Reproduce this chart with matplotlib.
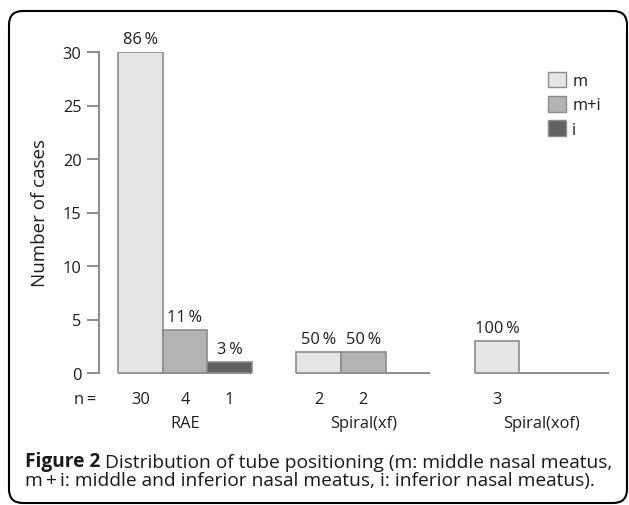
import matplotlib
matplotlib.use("Agg")
import matplotlib.pyplot as plt
from matplotlib.patches import FancyBboxPatch, Patch

# ---- data ----
groups = ["RAE", "Spiral(xf)", "Spiral(xof)"]
series = ["m", "m+i", "i"]
counts = [[30, 4, 1], [2, 2, 0], [3, 0, 0]]
percent_labels = [["86\u2009%", "11\u2009%", "3\u2009%"],
                  ["50\u2009%", "50\u2009%", ""],
                  ["100\u2009%", "", ""]]
n_labels = [["30", "4", "1"], ["2", "2", ""], ["3", "", ""]]
yticks = [0, 5, 10, 15, 20, 25, 30]
colors = ["#e5e5e5", "#b3b3b3", "#626262"]

W, H = 629, 506
plt.rcParams['font.family'] = ['Open Sans', 'DejaVu Sans']
fig = plt.figure(figsize=(W / 100, H / 100), dpi=100)
txt = "#1e1e1e"
fs = 11.8

# rounded border
box = FancyBboxPatch((9 / W, (H - 504) / H), (627 - 9) / W, (504 - 12) / H,
                     boxstyle="round,pad=0,rounding_size=0.022",
                     mutation_aspect=W / H,
                     transform=fig.transFigure, fill=False, ec="black", lw=1.5,
                     clip_on=False)
fig.patches.append(box)

slot_px = 44.6
ax_left, ax_right = 99, 612
ax_top, ax_bot = 53, 374
ax = fig.add_axes([ax_left / W, (H - ax_bot) / H, (ax_right - ax_left) / W, (ax_bot - ax_top) / H])
x0 = -(118 - ax_left) / slot_px
ax.set_xlim(x0, x0 + (ax_right - ax_left) / slot_px)
ax.set_ylim(0, 30)
ppu = (ax_bot - ax_top) / 30.0  # pixels per y unit

edge = "#8c8c8c"
y_n = -(404 - ax_bot) / ppu
y_g = -(428 - ax_bot) / ppu
for g, grp in enumerate(groups):
    start = g * 4
    for s in range(3):
        v = counts[g][s]
        x = start + s
        if v > 0:
            ax.bar(x, v, width=1, align="edge", color=colors[s], edgecolor=edge, lw=1.2, zorder=2)
        if percent_labels[g][s]:
            ax.annotate(percent_labels[g][s], (x + 0.5, v), xytext=(0, 6.5), textcoords="offset points",
                        ha="center", va="baseline", fontsize=fs, color=txt, annotation_clip=False)
        if n_labels[g][s]:
            ax.text(x + 0.5, y_n, n_labels[g][s], ha="center", va="baseline", fontsize=fs,
                    color=txt, clip_on=False)
    ax.hlines(0, start, start + 3, color=edge, lw=1.4, zorder=1, clip_on=False)
    ax.text(start + 1.5, y_g, grp, ha="center", va="baseline", fontsize=fs, color=txt, clip_on=False)

ax.text(x0 - 3 / slot_px, y_n, "n\u2009=", ha="right", va="baseline", fontsize=fs, color=txt, clip_on=False)

for sp in ["top", "right", "bottom"]:
    ax.spines[sp].set_visible(False)
ax.spines["left"].set_color(edge)
ax.spines["left"].set_linewidth(1.4)
ax.set_yticks(yticks)
ax.set_xticks([])
ax.tick_params(axis="y", length=8.5, width=1.4, color=edge, labelsize=fs, labelcolor=txt, pad=4)
ax.set_ylabel("Number of cases", fontsize=13.5, color=txt, labelpad=10)
ax.patch.set_visible(False)

handles = [Patch(facecolor=c, edgecolor=edge, label=l) for c, l in zip(colors, series)]
fig.legend(handles=handles, loc="upper left", bbox_to_anchor=(541 / W, (H - 66) / H),
           frameon=False, fontsize=fs, handlelength=1.1, handleheight=1.1,
           handletextpad=0.4, labelspacing=0.42, borderaxespad=0, labelcolor=txt)

cfs = 13.8
t1 = fig.text(25 / W, (H - 467) / H, "Figure 2", fontsize=cfs, fontweight="bold",
              va="baseline", ha="left", color="#1a1a1a")
ax.annotate(" Distribution of tube positioning (m: middle nasal meatus,", xy=(1, 0), xycoords=t1,
            va="bottom", ha="left", fontsize=cfs, color="#1a1a1a", annotation_clip=False)
fig.text(25 / W, (H - 486) / H, "m\u2009+\u2009i: middle and inferior nasal meatus, i: inferior nasal meatus).",
         fontsize=cfs, va="baseline", ha="left", color="#1a1a1a")

fig.savefig("out.png", dpi=100)
